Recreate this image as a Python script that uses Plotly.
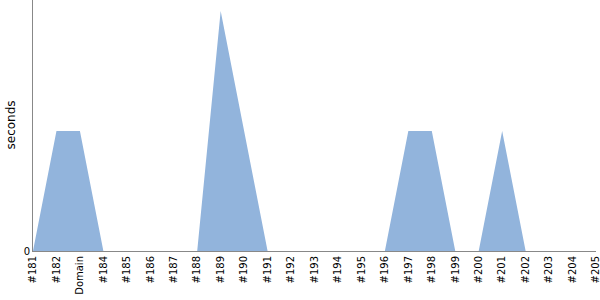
import plotly.graph_objects as go

categories = ["#181", "#182", "Domain", "#184", "#185", "#186", "#187", "#188", "#189",
              "#190", "#191", "#192", "#193", "#194", "#195", "#196", "#197", "#198",
              "#199", "#200", "#201", "#202", "#203", "#204", "#205"]
seconds = [0, 1, 1, 0, 0, 0, 0, 0, 2, 1, 0, 0, 0, 0, 0, 0, 1, 1, 0, 0, 1, 0, 0, 0, 0]

fig = go.Figure()
fig.add_trace(go.Scatter(
    x=categories, y=seconds, mode="lines", fill="tozeroy",
    line=dict(color="rgba(146,180,220,1)", width=0),
    fillcolor="rgba(146,180,220,1)", hoverinfo="x+y",
))
fig.update_layout(
    width=600, height=300,
    margin=dict(l=33, r=4, t=0, b=49),
    paper_bgcolor="white", plot_bgcolor="white",
    font=dict(family="DejaVu Sans", size=10, color="black"),
    showlegend=False,
    xaxis=dict(type="category", range=[0, 24], showgrid=False, zeroline=False,
               showline=True, linecolor="#888888", linewidth=1,
               tickangle=-90, ticks="", tickfont=dict(size=10)),
    yaxis=dict(range=[0, 2 * 251 / 240], showgrid=False, zeroline=False,
               showline=True, linecolor="#888888", linewidth=1,
               tickvals=[0], ticktext=["0"], ticks="", tickfont=dict(size=10)),
    annotations=[dict(text="seconds", textangle=-90, xref="paper", yref="paper",
                      x=0, y=0.5, xshift=-23, xanchor="center", yanchor="middle",
                      showarrow=False, font=dict(size=12))],
)
fig.write_html("out.html")
